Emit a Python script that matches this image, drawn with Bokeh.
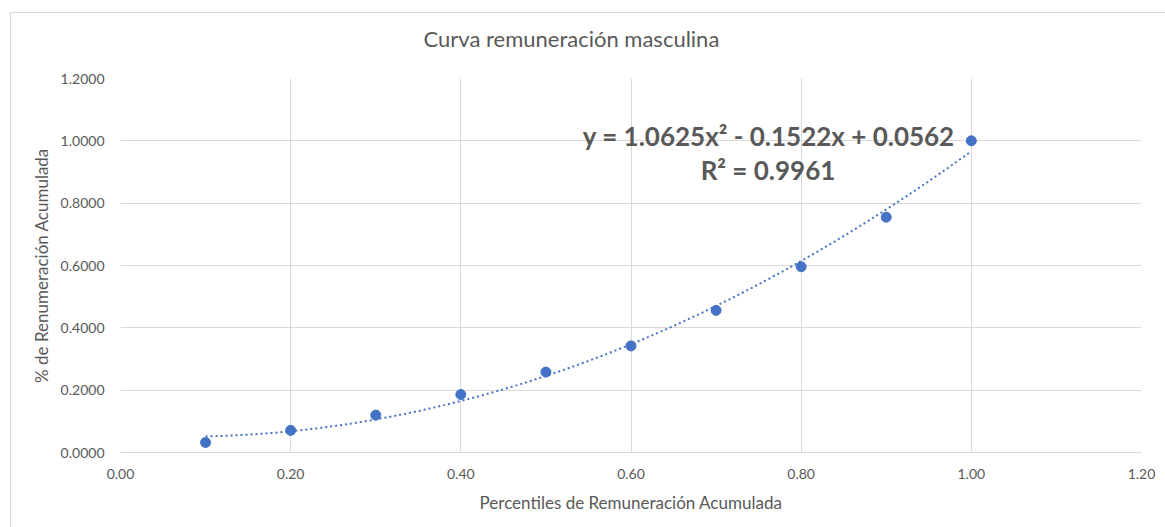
import numpy as np
from bokeh.plotting import figure
from bokeh.models import Range1d, FixedTicker, NumeralTickFormatter, Label, Title
from bokeh.embed import file_html
from bokeh.resources import INLINE

# ---- data ----
percentiles = [0.1, 0.2, 0.3, 0.4, 0.5, 0.6, 0.7, 0.8, 0.9, 1.0]
remuneracion = [0.032, 0.071, 0.120, 0.186, 0.258, 0.342, 0.456, 0.596, 0.755, 1.000]
trend_coefs = [1.0625, -0.1522, 0.0562]   # polynomial trendline y = a x^2 + b x + c
r_squared = 0.9961
x_ticks = [0.0, 0.2, 0.4, 0.6, 0.8, 1.0, 1.2]
y_ticks = [0.0, 0.2, 0.4, 0.6, 0.8, 1.0, 1.2]

title_text = "Curva remuneración masculina"
x_title = "Percentiles de Remuneración Acumulada"
y_title = "% de Renumeración Acumulada"
eq_text = "y = 1.0625x² - 0.1522x + 0.0562"
r2_text = "R² = 0.9961"

FONT = "Lato"
GRAY = "#595959"
BLUE = "#4472C4"
GRID = "#d9d9d9"

p = figure(width=1155, height=515, output_backend="svg", toolbar_location=None,
           x_range=Range1d(0, 1.2), y_range=Range1d(0, 1.2),
           min_border_left=109, min_border_right=25, min_border_top=65, min_border_bottom=76)
p.margin = (12, 0, 0, 10)
p.styles = {"border-left": "1px solid #d9d9d9", "border-top": "1px solid #d9d9d9"}
p.outline_line_color = None
p.background_fill_color = "white"
p.border_fill_color = "white"

# spacer between frame and title (keeps frame position, lifts title)
p.add_layout(Title(text=" ", text_font_size="1px", standoff=24), "above")

# title
p.title.text = title_text
p.title.align = "left"
p.title.vertical_align = "bottom"
p.title.offset = 303
p.title.standoff = 0
p.title.text_font = FONT
p.title.text_font_size = "22px"
p.title.text_font_style = "normal"
p.title.text_color = GRAY

# axes
p.xaxis.ticker = FixedTicker(ticks=x_ticks)
p.yaxis.ticker = FixedTicker(ticks=y_ticks)
p.xaxis.formatter = NumeralTickFormatter(format="0.00")
p.yaxis.formatter = NumeralTickFormatter(format="0.0000")
for ax in (p.xaxis, p.yaxis):
    ax.major_tick_line_color = None
    ax.minor_tick_line_color = None
    ax.major_label_text_font = FONT
    ax.major_label_text_font_size = "14px"
    ax.major_label_text_color = GRAY
    ax.axis_label_text_font = FONT
    ax.axis_label_text_font_size = "17px"
    ax.axis_label_text_font_style = "normal"
    ax.axis_label_text_color = GRAY
p.xaxis.axis_line_color = GRID
p.yaxis.axis_line_color = None
p.xaxis.major_label_standoff = 10
p.yaxis.major_label_standoff = 10
p.xaxis.axis_label = x_title
p.yaxis.axis_label = y_title
p.xaxis.axis_label_standoff = 10
p.yaxis.axis_label_standoff = 6

p.xgrid.ticker = FixedTicker(ticks=x_ticks)
p.ygrid.ticker = FixedTicker(ticks=y_ticks)
p.grid.grid_line_color = GRID
p.grid.grid_line_width = 1

# trendline from coefficients
xs = np.linspace(percentiles[0], percentiles[-1], 200)
ys = np.polyval(trend_coefs, xs)
p.line(xs, ys, line_color=BLUE, line_width=2, line_dash="2 3")

# points
p.scatter(percentiles, remuneracion, size=10, fill_color=BLUE, line_color=BLUE)

# equation labels
p.add_layout(Label(x=0.762, y=1.014, text=eq_text, text_align="center",
                   text_baseline="middle", text_font=FONT, text_font_size="26px",
                   text_font_style="bold", text_color=GRAY))
p.add_layout(Label(x=0.761, y=0.908, text=r2_text, text_align="center",
                   text_baseline="middle", text_font=FONT, text_font_size="26px",
                   text_font_style="bold", text_color=GRAY))

open("out.html", "w").write(file_html(p, INLINE))
